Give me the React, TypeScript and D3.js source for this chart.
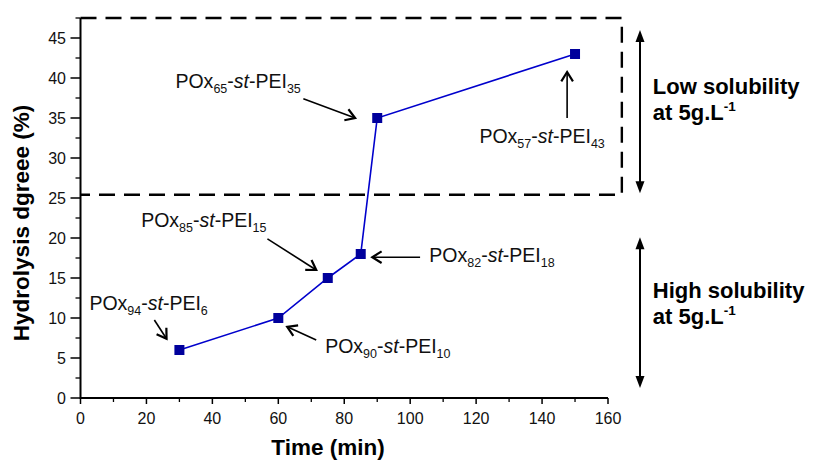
import React from "react";
import * as d3 from "d3";

// ---- data ----
const times = [30, 60, 75, 85, 90, 150];
const hydrolysis = [6, 10, 15, 18, 35, 43];
const xTicks = [0, 20, 40, 60, 80, 100, 120, 140, 160];
const yTicks = [0, 5, 10, 15, 20, 25, 30, 35, 40, 45];
const xMinor = [10, 30, 50, 70, 90, 110, 130, 150];
const yMinor = [2.5, 7.5, 12.5, 17.5, 22.5, 27.5, 32.5, 37.5, 42.5, 47.5];
const poxSub = [94, 85, 65, 57, 82, 90];
const peiSub = [6, 15, 35, 43, 18, 10];
// label anchors (data coords) and arrow start/end (data coords)
const labelX = [2.7, 18.4, 28.8, 121, 105.8, 74.2];
const labelY = [11, 21.4, 38.75, 31.9, 17, 5.6];
const arrowFrom = [[22.4, 9.75], [56.7, 19.9], [67.6, 37.4], [147.6, 35], [103, 17.6], [71.5, 7.25]];
const arrowTo = [[26.1, 7.4], [71.5, 16], [83.3, 35], [147.6, 40.75], [88.5, 17.6], [62.7, 8.9]];
const boxRange = { x1: 0, x2: 164.2, y1: 25.4, y2: 47.5 };
const sideArrowX = 169.7;
const sideArrows = [[46, 25.6], [20.1, 1.25]];
const sideTextX = 173.6;
const sideTitles = ["Low solubility", "High solubility"];
const sideBaseline = [38.0, 12.5];
const xTitle = "Time (min)";
const yTitle = "Hydrolysis dgreee (%)";

const W = 816, H = 462;
const x = d3.scaleLinear().domain([0, 160]).range([80.5, 608]);
const y = d3.scaleLinear().domain([0, 47.5]).range([398, 18]);

const FONT = "'Liberation Sans', Arial, Helvetica, sans-serif";

function OpenArrow({ x1, y1, x2, y2 }: { x1: number; y1: number; x2: number; y2: number }) {
  const ang = Math.atan2(y2 - y1, x2 - x1);
  const L = 11, a = (32 * Math.PI) / 180;
  const p1 = [x2 - L * Math.cos(ang - a), y2 - L * Math.sin(ang - a)];
  const p2 = [x2 - L * Math.cos(ang + a), y2 - L * Math.sin(ang + a)];
  return (
    <g fill="none" stroke="#000">
      <line x1={x1} y1={y1} x2={x2} y2={y2} strokeWidth={1.6} />
      <polyline
        points={`${p1[0]},${p1[1]} ${x2},${y2} ${p2[0]},${p2[1]}`}
        strokeWidth={2.2}
        strokeLinejoin="miter"
      />
    </g>
  );
}

function DoubleArrow({ xp, ya, yb }: { xp: number; ya: number; yb: number }) {
  const hw = 4.5, hl = 12;
  return (
    <g>
      <line x1={xp} y1={ya + hl - 1} x2={xp} y2={yb - hl + 1} stroke="#000" strokeWidth={2} />
      <path d={`M${xp},${ya} L${xp - hw},${ya + hl} L${xp + hw},${ya + hl} Z`} fill="#000" />
      <path d={`M${xp},${yb} L${xp - hw},${yb - hl} L${xp + hw},${yb - hl} Z`} fill="#000" />
    </g>
  );
}

export default function App() {
  const line = d3
    .line<number>()
    .x((_, i) => x(times[i]))
    .y((d) => y(d));
  const path = line(hydrolysis) || "";
  const bx1 = x(boxRange.x1), bx2 = x(boxRange.x2), by1 = y(boxRange.y2), by2 = y(boxRange.y1);

  return (
    <svg
      width={W}
      height={H}
      viewBox={`0 0 ${W} ${H}`}
      style={{ position: "absolute", left: 0, top: 0, background: "#fff" }}
      fontFamily={FONT}
    >
      <rect x={0} y={0} width={W} height={H} fill="#fff" />

      {/* dashed box */}
      <path
        d={`M${bx1},${by1} H${bx2} V${by2} H${bx1}`}
        fill="none"
        stroke="#000"
        strokeWidth={2.4}
        strokeDasharray="16 9"
      />

      {/* axes */}
      <line x1={x(0)} y1={y(0)} x2={x(160)} y2={y(0)} stroke="#000" strokeWidth={2} />
      <line x1={x(0)} y1={y(0) + 1} x2={x(0)} y2={y(47.5)} stroke="#000" strokeWidth={2} />
      {xTicks.map((t) => (
        <g key={"xt" + t}>
          <line x1={x(t)} x2={x(t)} y1={y(0)} y2={y(0) + 6} stroke="#000" strokeWidth={1.5} />
          <text x={x(t)} y={424} fontSize={16} textAnchor="middle" fill="#111">
            {t}
          </text>
        </g>
      ))}
      {xMinor.map((t) => (
        <line key={"xm" + t} x1={x(t)} x2={x(t)} y1={y(0)} y2={y(0) + 4} stroke="#000" strokeWidth={1.3} />
      ))}
      {yTicks.map((t) => (
        <g key={"yt" + t}>
          <line x1={x(0) - 10} x2={x(0)} y1={y(t)} y2={y(t)} stroke="#000" strokeWidth={1.5} />
          <text x={66} y={y(t) + 5.6} fontSize={16} textAnchor="end" fill="#111">
            {t}
          </text>
        </g>
      ))}
      {yMinor.map((t) => (
        <line key={"ym" + t} x1={x(0) - 5} x2={x(0)} y1={y(t)} y2={y(t)} stroke="#000" strokeWidth={1.3} />
      ))}

      {/* axis titles */}
      <text x={328} y={455} fontSize={22.5} fontWeight="bold" textAnchor="middle" fill="#000">
        {xTitle}
      </text>
      <text
        transform={`translate(29,${223}) rotate(-90)`}
        fontSize={22.5}
        fontWeight="bold"
        textAnchor="middle"
        fill="#000"
      >
        {yTitle}
      </text>

      {/* data line and markers */}
      <path d={path} fill="none" stroke="#0000CC" strokeWidth={1.6} />
      {hydrolysis.map((v, i) => (
        <rect key={"m" + i} x={x(times[i]) - 5} y={y(v) - 5} width={10} height={10} fill="#00009C" />
      ))}

      {/* annotations */}
      {poxSub.map((a, i) => (
        <g key={"an" + i}>
          <text x={x(labelX[i])} y={y(labelY[i])} fontSize={19.5} fill="#111">
            <tspan>POx</tspan>
            <tspan fontSize={12.5} dy={5}>{a}</tspan>
            <tspan dy={-5}>-</tspan>
            <tspan fontStyle="italic">st</tspan>
            <tspan>-PEI</tspan>
            <tspan fontSize={12.5} dy={5}>{peiSub[i]}</tspan>
          </text>
          <OpenArrow
            x1={x(arrowFrom[i][0])}
            y1={y(arrowFrom[i][1])}
            x2={x(arrowTo[i][0])}
            y2={y(arrowTo[i][1])}
          />
        </g>
      ))}

      {/* side indicators */}
      {sideArrows.map((s, i) => (
        <g key={"sa" + i}>
          <DoubleArrow xp={x(sideArrowX)} ya={y(s[0])} yb={y(s[1])} />
          <text x={x(sideTextX)} y={y(sideBaseline[i])} fontSize={22} fontWeight="bold" fill="#000">
            {sideTitles[i]}
          </text>
          <text x={x(sideTextX)} y={y(sideBaseline[i]) + 26} fontSize={22} fontWeight="bold" fill="#000">
            <tspan>at 5g.L</tspan>
            <tspan fontSize={13.5} dy={-9}>-1</tspan>
          </text>
        </g>
      ))}
    </svg>
  );
}
